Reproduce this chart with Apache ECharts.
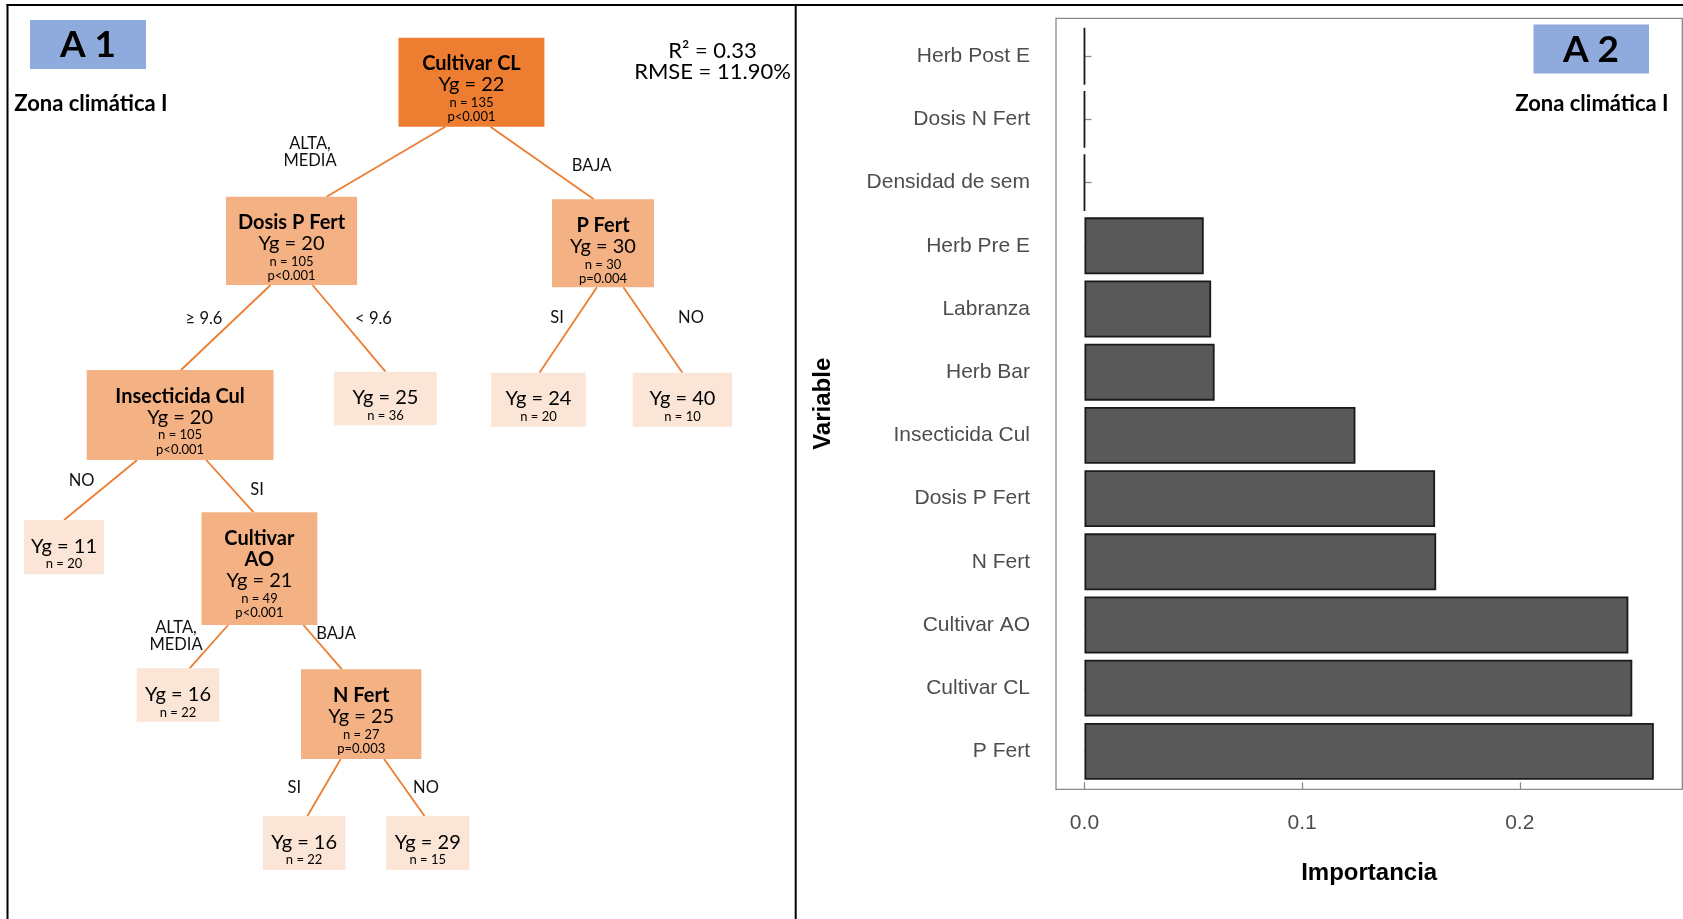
<!DOCTYPE html>
<html><head><meta charset="utf-8">
<script src="https://cdn.jsdelivr.net/npm/echarts@6/dist/echarts.min.js"></script>
<style>html,body{margin:0;padding:0;background:#fff}#c{width:1683px;height:919px}</style>
</head><body><div id="c"></div>
<script>
// ---------- A 2 : variable importance ----------
const variables = ['Herb Post E','Dosis N Fert','Densidad de sem','Herb Pre E','Labranza','Herb Bar','Insecticida Cul','Dosis P Fert','N Fert','Cultivar AO','Cultivar CL','P Fert'];
const importance = [0, 0, 0, 0.0548, 0.0582, 0.0598, 0.1245, 0.1611, 0.1616, 0.2499, 0.2517, 0.2616];
const xTickValues = [0, 0.1, 0.2];

// ---------- A 1 : regression tree ----------
const nodeNames = ['Cultivar CL','Dosis P Fert','P Fert','Insecticida Cul',null,null,null,null,'Cultivar\nAO',null,'N Fert',null,null];
const nodeYg    = [22, 20, 30, 20, 25, 24, 40, 11, 21, 16, 25, 16, 29];
const nodeN     = [135, 105, 30, 105, 36, 20, 10, 20, 49, 22, 27, 22, 15];
const nodeP     = ['p<0.001','p<0.001','p=0.004','p<0.001',null,null,null,null,'p<0.001',null,'p=0.003',null,null];
const edgeParent = [0, 0, 1, 1, 2, 2, 3, 3, 8, 8, 10, 10];
const edgeChild  = [1, 2, 3, 4, 5, 6, 7, 8, 9, 10, 11, 12];
const edgeLabels = ['ALTA,\nMEDIA','BAJA','\u2265 9.6','< 9.6','SI','NO','NO','SI','ALTA,\nMEDIA','BAJA','SI','NO'];

// ---------- layout of the tree diagram (panel units) ----------
const nodeBoxes = [
  [398.5, 37.7, 544.4, 126.7],
  [226, 196.7, 357.1, 285],
  [552, 199.3, 654, 287.3],
  [86.7, 370, 273.5, 460],
  [334.2, 371.7, 436.7, 425.3],
  [491.3, 372.7, 585.7, 426.7],
  [632.7, 372.7, 732.2, 426.7],
  [24, 520, 104.1, 574.3],
  [201.5, 512.3, 317.3, 625],
  [136.7, 668.3, 219.4, 721.7],
  [301, 669.3, 421.4, 759],
  [262.8, 816, 345.4, 870],
  [386.2, 816, 469.4, 870]
];
const edgeAttach = [[0.32,0.767],[0.63,0.41],[0.34,0.505],[0.66,0.50],[0.44,0.51],[0.70,0.50],[0.27,0.50],[0.64,0.45],[0.23,0.64],[0.88,0.34],[0.33,0.54],[0.69,0.46]];
const edgeLabelPos = [[310,152],[591.6,165.6],[204,319],[373.5,319],[557,317.7],[691,317.7],[81.6,481],[257,490],[176,636],[336,633.6],[294.3,788],[426,788]];

const TREE_FONT = 'Lato';
const AX_FONT = 'Liberation Sans';
const colRoot = '#ED7D31', colInner = '#F4B183', colLeaf = '#FBE5D6', colEdge = '#ED7D31';

const xMax = Math.max(...importance);
const xMinAx = -0.05 * xMax, xMaxAx = 1.05 * xMax;

// frame of panel A2
const frame = {left: 1056, top: 18.3, right: 1682.3, bottom: 789.3};
const band = (frame.bottom - frame.top) / (variables.length - 1 + 1.2);

const chart = echarts.init(document.getElementById('c'), null, {renderer: 'canvas'});

const option = {
  animation: false,
  backgroundColor: '#fff',
  grid: [
    {left: frame.left, width: frame.right - frame.left, top: frame.top + 0.1 * band, height: band * variables.length, outerBoundsMode: 'none', containLabel: false},
    {left: 0, top: 0, width: 790, height: 919, outerBoundsMode: 'none', containLabel: false}
  ],
  xAxis: [
    {
      gridIndex: 0, type: 'value', min: xMinAx, max: xMaxAx,
      offset: frame.bottom - (frame.top + 0.1 * band + band * variables.length),
      axisLine: {show: false}, splitLine: {show: false},
      axisTick: {show: true, inside: true, length: 7, lineStyle: {color: '#8a8a8a', width: 1.3}, customValues: xTickValues},
      axisLabel: {customValues: xTickValues, formatter: v => v.toFixed(1), margin: 23, fontSize: 21, color: '#4d4d4d', fontFamily: AX_FONT},
      name: 'Importancia', nameLocation: 'middle', nameGap: 72,
      nameTextStyle: {fontWeight: 'bold', fontSize: 24, color: '#000', fontFamily: AX_FONT}
    },
    {gridIndex: 1, type: 'value', min: 0, max: 790, show: false}
  ],
  yAxis: [
    {
      gridIndex: 0, type: 'category', data: variables, inverse: true,
      axisLine: {show: false}, splitLine: {show: false},
      axisTick: {show: true, inside: true, length: 7, alignWithLabel: true, lineStyle: {color: '#8a8a8a', width: 1.3}},
      axisLabel: {margin: 26, fontSize: 21, color: '#4d4d4d', fontFamily: AX_FONT},
      name: 'Variable', nameLocation: 'middle', nameGap: 221, nameRotate: 90,
      nameTextStyle: {fontWeight: 'bold', fontSize: 24, color: '#000', fontFamily: AX_FONT}
    },
    {gridIndex: 1, type: 'value', min: 0, max: 919, inverse: true, show: false}
  ],
  series: [
    {
      type: 'bar', xAxisIndex: 0, yAxisIndex: 0, data: importance, barWidth: '90%',
      itemStyle: {color: '#595959', borderColor: '#1a1a1a', borderWidth: 1.8},
      silent: true
    },
    {
      type: 'custom', xAxisIndex: 1, yAxisIndex: 1, silent: true, clip: false,
      data: edgeParent.map((p, i) => [i, i]),
      renderItem(params, api) {
        const i = params.dataIndex;
        const pb = nodeBoxes[edgeParent[i]], cb = nodeBoxes[edgeChild[i]];
        const a = api.coord([pb[0] + edgeAttach[i][0] * (pb[2] - pb[0]), pb[3]]);
        const b = api.coord([cb[0] + edgeAttach[i][1] * (cb[2] - cb[0]), cb[1]]);
        const lp = api.coord(edgeLabelPos[i]);
        return {type: 'group', children: [
          {type: 'line', shape: {x1: a[0], y1: a[1], x2: b[0], y2: b[1]}, style: {stroke: colEdge, lineWidth: 1.8}},
          {type: 'text', x: lp[0], y: lp[1], style: {text: edgeLabels[i], align: 'center', verticalAlign: 'middle', fontFamily: TREE_FONT, fontSize: 16.5, lineHeight: 17.5, fill: '#111'}}
        ]};
      }
    },
    {
      type: 'custom', xAxisIndex: 1, yAxisIndex: 1, silent: true, clip: false, z: 3,
      data: nodeYg.map((v, i) => [i, v]),
      renderItem(params, api) {
        const i = params.dataIndex;
        const bx = nodeBoxes[i];
        const p0 = api.coord([bx[0], bx[1]]), p1 = api.coord([bx[2], bx[3]]);
        const fill = i === 0 ? colRoot : (nodeNames[i] ? colInner : colLeaf);
        let txt = '';
        if (nodeNames[i]) txt += nodeNames[i].split('\n').map(s => '{t|' + s + '}').join('\n') + '\n';
        txt += '{y|Yg = ' + nodeYg[i] + '}\n{n|n = ' + nodeN[i] + '}';
        if (nodeP[i]) txt += '\n{p|' + nodeP[i] + '}';
        return {type: 'group', children: [
          {type: 'rect', shape: {x: p0[0], y: p0[1], width: p1[0] - p0[0], height: p1[1] - p0[1]}, style: {fill: fill}},
          {type: 'text', x: (p0[0] + p1[0]) / 2, y: p0[1] + 15.8, style: {
            text: txt, align: 'center', verticalAlign: 'top', fill: '#000',
            rich: {
              t: {fontFamily: TREE_FONT, fontWeight: 'bold', fontSize: 20, lineHeight: 21, fill: '#000', align: 'center'},
              y: {fontFamily: TREE_FONT, fontSize: 20, lineHeight: 21, fill: '#000', align: 'center'},
              n: {fontFamily: TREE_FONT, fontSize: 13, lineHeight: 15, fill: '#000', align: 'center'},
              p: {fontFamily: TREE_FONT, fontSize: 13, lineHeight: 13.5, fill: '#000', align: 'center'}
            }
          }}
        ]};
      }
    }
  ],
  graphic: [
    // panel frames
    {type: 'line', shape: {x1: 6.5, y1: 5, x2: 1683, y2: 5}, style: {stroke: '#000', lineWidth: 2}},
    {type: 'line', shape: {x1: 7.5, y1: 4, x2: 7.5, y2: 919}, style: {stroke: '#000', lineWidth: 2}},
    {type: 'line', shape: {x1: 795.7, y1: 4, x2: 795.7, y2: 919}, style: {stroke: '#000', lineWidth: 2}},
    {type: 'rect', shape: {x: frame.left, y: frame.top, width: frame.right - frame.left, height: frame.bottom - frame.top}, style: {fill: 'none', stroke: '#8a8a8a', lineWidth: 1.3}},
    // panel tags
    {type: 'rect', shape: {x: 30, y: 20, width: 116, height: 49}, style: {fill: '#8FAADC'}},
    {type: 'text', x: 88, y: 45, style: {text: 'A 1', align: 'center', verticalAlign: 'middle', fontFamily: TREE_FONT, fontWeight: 'bold', fontSize: 37, fill: '#000'}},
    {type: 'text', x: 14.3, y: 104.3, style: {text: 'Zona clim\u00e1tica I', align: 'left', verticalAlign: 'middle', fontFamily: TREE_FONT, fontWeight: 'bold', fontSize: 22, fill: '#000'}},
    {type: 'text', x: 712.5, y: 50.7, style: {text: 'R\u00b2 = 0.33', align: 'center', verticalAlign: 'middle', fontFamily: TREE_FONT, fontSize: 22, fill: '#000'}},
    {type: 'text', x: 712.5, y: 71.7, style: {text: 'RMSE = 11.90%', align: 'center', verticalAlign: 'middle', fontFamily: TREE_FONT, fontSize: 22, fill: '#000'}},
    {type: 'rect', shape: {x: 1533.5, y: 24.5, width: 115.5, height: 49}, style: {fill: '#8FAADC'}},
    {type: 'text', x: 1591, y: 50, style: {text: 'A 2', align: 'center', verticalAlign: 'middle', fontFamily: TREE_FONT, fontWeight: 'bold', fontSize: 37, fill: '#000'}},
    {type: 'text', x: 1592, y: 103.5, style: {text: 'Zona clim\u00e1tica I', align: 'center', verticalAlign: 'middle', fontFamily: TREE_FONT, fontWeight: 'bold', fontSize: 22, fill: '#000'}}
  ]
};
chart.setOption(option);
</script>
</body></html>
